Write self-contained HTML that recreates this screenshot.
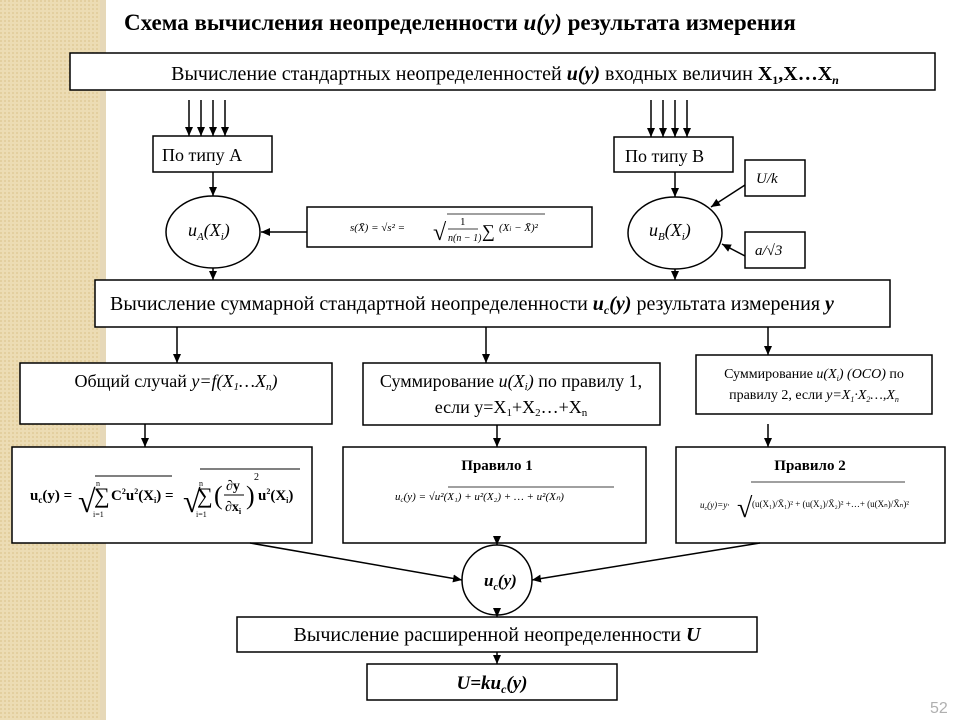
<!DOCTYPE html>
<html><head><meta charset="utf-8"><style>
html,body{margin:0;padding:0;background:#fff}
svg{display:block}
text{font-family:"Liberation Serif",serif;fill:#000}
</style></head><body>
<svg width="960" height="720" viewBox="0 0 960 720" xmlns="http://www.w3.org/2000/svg">
<defs>
<pattern id="bg" width="4" height="4" patternUnits="userSpaceOnUse"><rect width="4" height="4" fill="#ecdcb4"/><rect width="2" height="2" fill="#e3cf9f"/></pattern>
<marker id="a" markerWidth="10" markerHeight="10" refX="9" refY="5" orient="auto" markerUnits="userSpaceOnUse"><path d="M0,1 L9,5 L0,9 z" fill="#000"/></marker>
</defs>
<rect x="0" y="0" width="105" height="720" fill="url(#bg)"/>
<rect x="100" y="0" width="6" height="720" fill="#e6d8b8"/>
<g stroke="#000" stroke-width="1.5" fill="#fff">
<rect x="70" y="53" width="865" height="37"/>
<rect x="153" y="136" width="119" height="36"/>
<rect x="614" y="137" width="119" height="35"/>
<ellipse cx="213" cy="232" rx="47" ry="36"/>
<ellipse cx="675" cy="233" rx="47" ry="36"/>
<rect x="307" y="207" width="285" height="40"/>
<rect x="745" y="160" width="60" height="36"/>
<rect x="745" y="232" width="60" height="36"/>
<rect x="95" y="280" width="795" height="47"/>
<rect x="20" y="363" width="312" height="61"/>
<rect x="363" y="363" width="297" height="62"/>
<rect x="696" y="355" width="236" height="59"/>
<rect x="12" y="447" width="300" height="96"/>
<rect x="343" y="447" width="303" height="96"/>
<rect x="676" y="447" width="269" height="96"/>
<circle cx="497" cy="580" r="35"/>
<rect x="237" y="617" width="520" height="35"/>
<rect x="367" y="664" width="250" height="36"/>
</g>
<g stroke="#000" stroke-width="1.5" fill="none" marker-end="url(#a)">
<line x1="189" y1="100" x2="189" y2="136"/><line x1="201" y1="100" x2="201" y2="136"/><line x1="213" y1="100" x2="213" y2="136"/><line x1="225" y1="100" x2="225" y2="136"/>
<line x1="651" y1="100" x2="651" y2="137"/><line x1="663" y1="100" x2="663" y2="137"/><line x1="675" y1="100" x2="675" y2="137"/><line x1="687" y1="100" x2="687" y2="137"/>
<line x1="213" y1="172" x2="213" y2="196"/>
<line x1="675" y1="172" x2="675" y2="197"/>
<line x1="307" y1="232" x2="261" y2="232"/>
<line x1="745" y1="185" x2="711" y2="207"/>
<line x1="745" y1="256" x2="722" y2="244"/>
<line x1="213" y1="268" x2="213" y2="280"/>
<line x1="675" y1="269" x2="675" y2="280"/>
<line x1="177" y1="327" x2="177" y2="363"/>
<line x1="486" y1="327" x2="486" y2="363"/>
<line x1="768" y1="327" x2="768" y2="355"/>
<line x1="145" y1="424" x2="145" y2="447"/>
<line x1="497" y1="425" x2="497" y2="447"/>
<line x1="768" y1="424" x2="768" y2="447"/>
<line x1="250" y1="543" x2="462" y2="580"/>
<line x1="497" y1="543" x2="497" y2="545"/>
<line x1="760" y1="543" x2="532" y2="580"/>
<line x1="497" y1="615" x2="497" y2="617"/>
<line x1="497" y1="652" x2="497" y2="664"/>
</g>
<text x="124" y="30" font-size="23" font-weight="bold">Схема вычисления неопределенности <tspan font-style="italic">u(y)</tspan> результата измерения</text>
<text x="505" y="80" font-size="20" text-anchor="middle">Вычисление стандартных неопределенностей <tspan font-weight="bold" font-style="italic">u(y)</tspan> входных величин <tspan font-weight="bold">X<tspan font-size="12" dy="4">1</tspan><tspan dy="-4">,X…X</tspan><tspan font-size="12" dy="4" font-style="italic">n</tspan></tspan></text>
<text x="162" y="161" font-size="18">По типу А</text>
<text x="625" y="162" font-size="18">По типу В</text>
<text x="188" y="236" font-size="18" font-style="italic">u<tspan font-size="11" dy="4">A</tspan><tspan dy="-4">(X</tspan><tspan font-size="11" dy="4">i</tspan><tspan dy="-4">)</tspan></text>
<text x="649" y="236" font-size="18" font-style="italic">u<tspan font-size="11" dy="4">B</tspan><tspan dy="-4">(X</tspan><tspan font-size="11" dy="4">i</tspan><tspan dy="-4">)</tspan></text>
<text x="756" y="183" font-size="15" font-style="italic">U/k</text>
<text x="755" y="255" font-size="15" font-style="italic">a/√3</text>
<text x="350" y="231" font-size="11" font-style="italic">s(X̄) = √s² = </text>
<text x="433" y="240" font-size="24">√</text>
<line x1="447" y1="214" x2="545" y2="214" stroke="#000" stroke-width="0.8"/>
<text x="460" y="225" font-size="11">1</text>
<line x1="448" y1="229" x2="478" y2="229" stroke="#000" stroke-width="0.8"/>
<text x="448" y="241" font-size="10" font-style="italic">n(n − 1)</text>
<text x="482" y="237" font-size="18">∑</text>
<text x="499" y="231" font-size="11" font-style="italic">(X<tspan font-size="7">i</tspan> − X̄)²</text>
<text x="110" y="310" font-size="20">Вычисление суммарной стандартной неопределенности <tspan font-weight="bold" font-style="italic">u<tspan font-size="12" dy="4">c</tspan><tspan dy="-4">(y)</tspan></tspan> результата измерения <tspan font-weight="bold" font-style="italic">y</tspan></text>
<text x="176" y="387" font-size="18" text-anchor="middle">Общий случай <tspan font-style="italic">y=f(X<tspan font-size="11" dy="3">1</tspan><tspan dy="-3">…X</tspan><tspan font-size="11" dy="3">n</tspan><tspan dy="-3">)</tspan></tspan></text>
<text x="511" y="387" font-size="18" text-anchor="middle">Суммирование <tspan font-style="italic">u(X<tspan font-size="11" dy="3">i</tspan><tspan dy="-3">)</tspan></tspan> по правилу 1,</text>
<text x="511" y="413" font-size="18" text-anchor="middle">если y=X<tspan font-size="11" dy="3">1</tspan><tspan dy="-3">+X</tspan><tspan font-size="11" dy="3">2</tspan><tspan dy="-3">…+X</tspan><tspan font-size="11" dy="3">n</tspan></text>
<text x="814" y="378" font-size="14" text-anchor="middle">Суммирование <tspan font-style="italic">u(X<tspan font-size="8" dy="3">i</tspan><tspan dy="-3">) (ОСО)</tspan></tspan> по</text>
<text x="814" y="399" font-size="14" text-anchor="middle">правилу 2, если <tspan font-style="italic">y=X<tspan font-size="8" dy="3">1</tspan><tspan dy="-3">·X</tspan><tspan font-size="8" dy="3">2</tspan><tspan dy="-3">…,X</tspan><tspan font-size="8" dy="3">n</tspan></tspan></text>
<text x="30" y="500" font-size="15" font-weight="bold">u<tspan font-size="9" dy="3">c</tspan><tspan dy="-3">(y) = </tspan></text>
<text x="78" y="512" font-size="32">√</text>
<line x1="95" y1="476" x2="172" y2="476" stroke="#000"/>
<text x="94" y="503" font-size="22">∑</text>
<text x="96" y="486" font-size="8">n</text><text x="93" y="517" font-size="8">i=1</text>
<text x="111" y="500" font-size="15" font-weight="bold">C<tspan font-size="8" dy="-6">2</tspan><tspan dy="6">u</tspan><tspan font-size="8" dy="-6">2</tspan><tspan dy="6">(X</tspan><tspan font-size="8" dy="3">i</tspan><tspan dy="-3">) =</tspan></text>
<text x="183" y="512" font-size="32">√</text>
<line x1="200" y1="469" x2="300" y2="469" stroke="#000"/>
<text x="197" y="503" font-size="22">∑</text>
<text x="199" y="486" font-size="8">n</text><text x="196" y="517" font-size="8">i=1</text>
<text x="214" y="504" font-size="26">(</text>
<text x="226" y="490" font-size="14" font-weight="bold">∂y</text>
<line x1="224" y1="495" x2="244" y2="495" stroke="#000"/>
<text x="225" y="511" font-size="14" font-weight="bold">∂x<tspan font-size="8" dy="3">i</tspan></text>
<text x="246" y="504" font-size="26">)</text>
<text x="254" y="480" font-size="10">2</text>
<text x="258" y="500" font-size="15" font-weight="bold">u<tspan font-size="8" dy="-6">2</tspan><tspan dy="6">(X</tspan><tspan font-size="8" dy="3">i</tspan><tspan dy="-3">)</tspan></text>
<text x="497" y="470" font-size="15" font-weight="bold" text-anchor="middle">Правило 1</text>
<text x="395" y="500" font-size="11" font-style="italic">u<tspan font-size="7" dy="2">c</tspan><tspan dy="-2">(y) = √u²(X₁) + u²(X₂) + … + u²(Xₙ)</tspan></text>
<line x1="448" y1="487" x2="614" y2="487" stroke="#000" stroke-width="0.8"/>
<text x="810" y="470" font-size="15" font-weight="bold" text-anchor="middle">Правило 2</text>
<text x="700" y="508" font-size="9" font-style="italic">u<tspan font-size="6" dy="2">c</tspan><tspan dy="-2">(y)=y·</tspan></text>
<text x="737" y="517" font-size="28">√</text>
<line x1="751" y1="482" x2="905" y2="482" stroke="#000" stroke-width="0.8"/>
<text x="752" y="507" font-size="9">(u(X₁)/X̄₁)² + (u(X₂)/X̄₂)² +…+ (u(Xₙ)/X̄ₙ)²</text>
<text x="484" y="586" font-size="17" font-weight="bold" font-style="italic">u<tspan font-size="10" dy="4">c</tspan><tspan dy="-4">(y)</tspan></text>
<text x="497" y="641" font-size="20" text-anchor="middle">Вычисление расширенной неопределенности <tspan font-weight="bold" font-style="italic">U</tspan></text>
<text x="492" y="689" font-size="19" font-weight="bold" font-style="italic" text-anchor="middle">U=ku<tspan font-size="12" dy="4">c</tspan><tspan dy="-4">(y)</tspan></text>
<text x="930" y="713" font-size="16" style="fill:#b0b0b0;font-family:'Liberation Sans',sans-serif">52</text>
</svg>
</body></html>
